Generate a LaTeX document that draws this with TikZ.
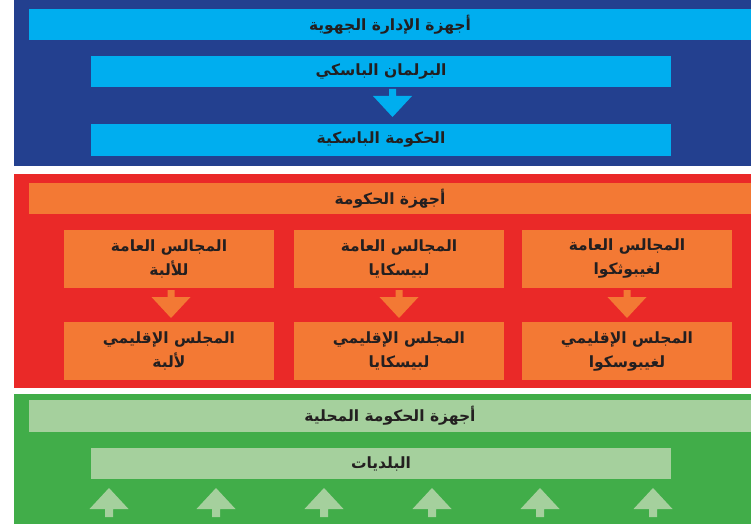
\documentclass[tikz,border=0pt]{standalone}
\usepackage{fontspec}
\newfontfamily\arabicfont[Script=Arabic,BoldFont={DejaVu Sans Bold}]{DejaVu Sans}
\TeXXeTstate=1
\definecolor{dblue}{RGB}{35,64,143}
\definecolor{lblue}{RGB}{0,174,239}
\definecolor{rred}{RGB}{234,41,40}
\definecolor{oorange}{RGB}{243,121,52}
\definecolor{ggreen}{RGB}{65,173,73}
\definecolor{lgreen}{RGB}{165,208,157}
\definecolor{txt}{RGB}{35,31,32}
\newcommand\ar[1]{\beginR #1\endR}
\begin{document}
\begin{tikzpicture}[x=1pt,y=-1pt,
  panel/.style={inner sep=0pt, outer sep=0pt, anchor=north west},
  box/.style={inner sep=0pt, outer sep=0pt, anchor=north west, align=center,
    text=txt, font=\arabicfont\bfseries\fontsize{15.5}{24}\selectfont}]
\useasboundingbox (0,0) rectangle (751,524);
% panels
\node[panel, fill=dblue, minimum width=737pt, minimum height=166pt] (p1) at (14,0) {};
\node[panel, fill=rred, minimum width=737pt, minimum height=214pt] (p2) at (14,174) {};
\node[panel, fill=ggreen, minimum width=737pt, minimum height=130pt] (p3) at (14,394) {};
% blue
\node[box, fill=lblue, minimum width=722pt, minimum height=31pt] (h1) at (29,9) {\ar{أجهزة الإدارة الجهوية}};
\node[box, fill=lblue, minimum width=580pt, minimum height=31pt] (b1) at (91,56) {\ar{البرلمان الباسكي}};
\node[box, fill=lblue, minimum width=580pt, minimum height=32pt] (b2) at (91,124) {\ar{الحكومة الباسكية}};
% red
\node[box, fill=oorange, minimum width=722pt, minimum height=31pt] (h2) at (29,183) {\ar{أجهزة الحكومة}};
\node[box, fill=oorange, minimum width=210pt, minimum height=58pt] (g1) at (64,230) {\ar{المجالس العامة}\\\ar{للألبة}};
\node[box, fill=oorange, minimum width=210pt, minimum height=58pt] (g2) at (294,230) {\ar{المجالس العامة}\\\ar{لبيسكايا}};
\node[box, fill=oorange, minimum width=210pt, minimum height=58pt] (g3) at (522,230) {\ar{المجالس العامة}\\\ar{لغيبوثكوا}};
\node[box, fill=oorange, minimum width=210pt, minimum height=58pt] (r1) at (64,322) {\ar{المجلس الإقليمي}\\\ar{لألبة}};
\node[box, fill=oorange, minimum width=210pt, minimum height=58pt] (r2) at (294,322) {\ar{المجلس الإقليمي}\\\ar{لبيسكايا}};
\node[box, fill=oorange, minimum width=210pt, minimum height=58pt] (r3) at (522,322) {\ar{المجلس الإقليمي}\\\ar{لغيبوسكوا}};
% green
\node[box, fill=lgreen, minimum width=722pt, minimum height=32pt] (h3) at (29,400) {\ar{أجهزة الحكومة المحلية}};
\node[box, fill=lgreen, minimum width=580pt, minimum height=31pt] (m) at (91,448) {\ar{البلديات}};
% block arrows
\newcommand\dnarrow[3]{% color, center x, top y
  \fill[#1] (#2-3.5,#3) -- (#2+3.5,#3) -- (#2+3.5,#3+7) -- (#2+19.5,#3+7) -- (#2,#3+28) -- (#2-19.5,#3+7) -- (#2-3.5,#3+7) -- cycle;}
\newcommand\uparrowblk[3]{% color, center x, apex y
  \fill[#1] (#2,#3) -- (#2+19.5,#3+21) -- (#2+4,#3+21) -- (#2+4,#3+29) -- (#2-4,#3+29) -- (#2-4,#3+21) -- (#2-19.5,#3+21) -- cycle;}
\dnarrow{lblue}{392.5}{89}
\dnarrow{oorange}{171}{290}
\dnarrow{oorange}{399}{290}
\dnarrow{oorange}{627}{290}
\foreach \cx in {109,216,324,432,540,653} {\uparrowblk{lgreen}{\cx}{488}}
\end{tikzpicture}
\end{document}
